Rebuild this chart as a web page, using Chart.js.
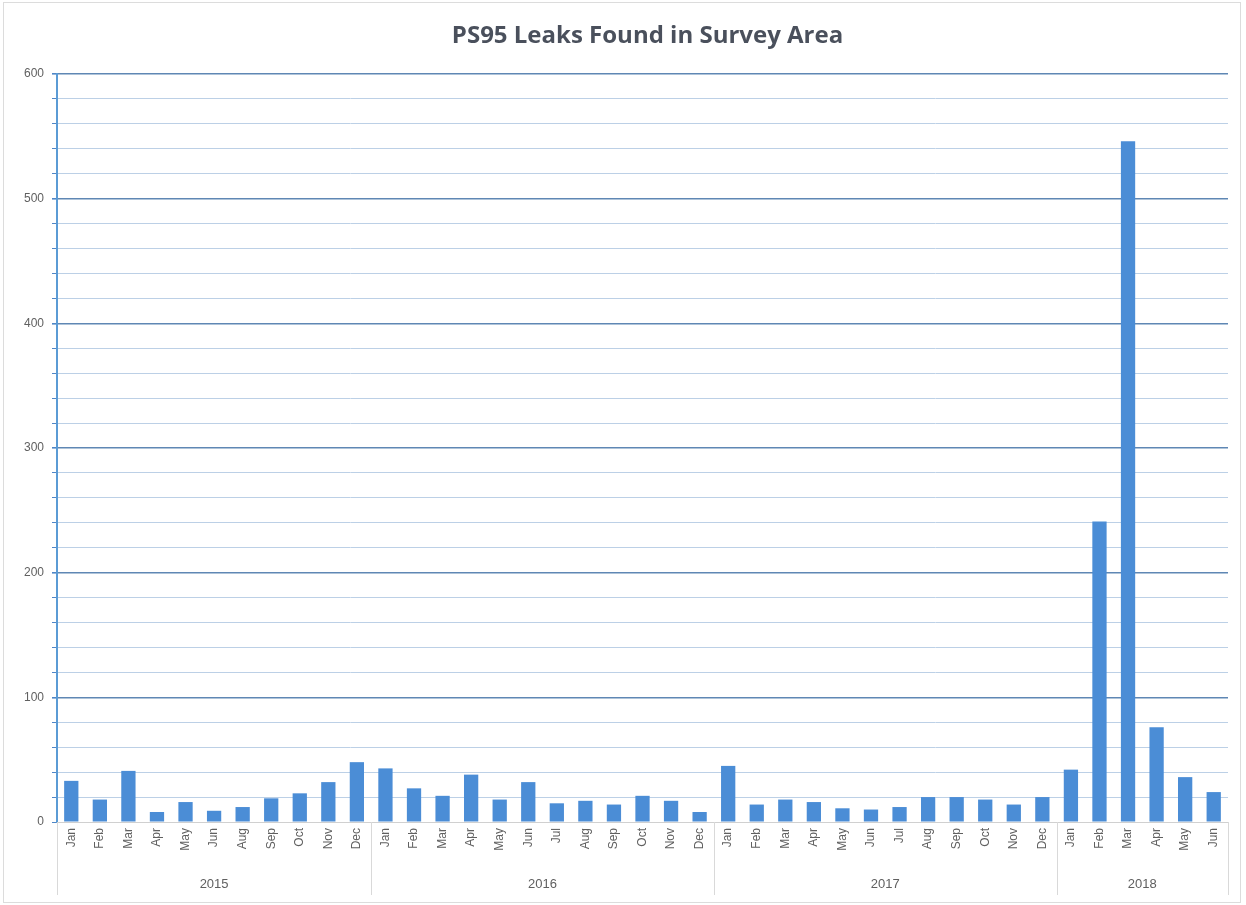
<!DOCTYPE html>
<html>
<head>
<meta charset="utf-8">
<title>PS95 Leaks Found in Survey Area</title>
<script src="https://cdn.jsdelivr.net/npm/chart.js@4.4.1/dist/chart.umd.min.js"></script>
<style>
    html, body { margin: 0; padding: 0; background: #ffffff; }
    .frame {
        position: absolute;
        left: 3px; top: 2px;
        width: 1236px; height: 899px;
        border: 1px solid #dcdcdc;
    }
    .chart-box {
        position: absolute;
        left: 0; top: 0;
        width: 1246px; height: 905px;
    }
</style>
</head>
<body>
<div class="frame"></div>
<div class="chart-box"><canvas id="leaks-chart"></canvas></div>
<script>
// Category groups (2015 has no July)
const years = ['2015', '2016', '2017', '2018'];
const months2015 = ['Jan', 'Feb', 'Mar', 'Apr', 'May', 'Jun', 'Aug', 'Sep', 'Oct', 'Nov', 'Dec'];
const months2016 = ['Jan', 'Feb', 'Mar', 'Apr', 'May', 'Jun', 'Jul', 'Aug', 'Sep', 'Oct', 'Nov', 'Dec'];
const months2017 = ['Jan', 'Feb', 'Mar', 'Apr', 'May', 'Jun', 'Jul', 'Aug', 'Sep', 'Oct', 'Nov', 'Dec'];
const months2018 = ['Jan', 'Feb', 'Mar', 'Apr', 'May', 'Jun'];

// Leaks found per month
const leaks2015 = [33, 18, 41, 8, 16, 9, 12, 19, 23, 32, 48];
const leaks2016 = [43, 27, 21, 38, 18, 32, 15, 17, 14, 21, 17, 8];
const leaks2017 = [45, 14, 18, 16, 11, 10, 12, 20, 20, 18, 14, 20];
const leaks2018 = [42, 241, 546, 76, 36, 24];

// Y axis
const yMin = 0;
const yMax = 600;
const yStep = 20;
const yLabelStep = 100;

const chartTitle = 'PS95 Leaks Found in Survey Area';

const monthGroups = [months2015, months2016, months2017, months2018];
const labels = monthGroups.flat();
const values = [leaks2015, leaks2016, leaks2017, leaks2018].flat();

const FONT = '"Liberation Sans", Arial, sans-serif';
const TEXT_COLOR = '#606060';
const MAJOR_GRID = '#5f87b4';
const MINOR_GRID = '#bcd0e6';
const SEP_COLOR = '#d9d9d9';

/**
 * Title centred over the plot area (Excel style)
 */
const plotTitlePlugin = {
    id: 'plotTitle',
    afterDraw(chart) {
        const area = chart.chartArea;
        const ctx = chart.ctx;
        ctx.save();
        ctx.fillStyle = '#4a505c';
        ctx.font = 'bold 24px "Open Sans", "Liberation Sans", sans-serif';
        ctx.textAlign = 'center';
        ctx.textBaseline = 'middle';
        ctx.fillText(chartTitle, (area.left + area.right) / 2 + 5, 36);
        ctx.restore();
    }
};

/**
 * Draws the year row and group separators under the month labels
 */
const yearGroupsPlugin = {
    id: 'yearGroups',
    afterDraw(chart) {
        const x = chart.scales.x;
        const area = chart.chartArea;
        const ctx = chart.ctx;
        const top = area.bottom;
        const bottom = x.bottom;

        ctx.save();
        ctx.strokeStyle = SEP_COLOR;
        ctx.lineWidth = 1;
        ctx.fillStyle = TEXT_COLOR;
        ctx.font = '13px ' + FONT;
        ctx.textAlign = 'center';
        ctx.textBaseline = 'middle';

        let start = 0;
        monthGroups.forEach((group, i) => {
            const end = start + group.length - 1;
            const left = start === 0 ? area.left : (x.getPixelForValue(start - 1) + x.getPixelForValue(start)) / 2;
            const right = end === labels.length - 1 ? area.right : (x.getPixelForValue(end) + x.getPixelForValue(end + 1)) / 2;

            ctx.beginPath();
            ctx.moveTo(Math.round(left) + 0.5, top);
            ctx.lineTo(Math.round(left) + 0.5, bottom);
            ctx.stroke();
            if (i === monthGroups.length - 1) {
                ctx.beginPath();
                ctx.moveTo(Math.round(right) + 0.5, top);
                ctx.lineTo(Math.round(right) + 0.5, bottom);
                ctx.stroke();
            }

            ctx.fillText(years[i], (left + right) / 2, bottom - 11);
            start = end + 1;
        });
        ctx.restore();
    }
};

const ctx = document.getElementById('leaks-chart').getContext('2d');

new Chart(ctx, {
    type: 'bar',
    data: {
        labels: labels,
        datasets: [{
            label: 'Leaks',
            data: values,
            backgroundColor: '#4b8dd6',
            borderWidth: 0,
            categoryPercentage: 1,
            barPercentage: 0.5
        }]
    },
    options: {
        responsive: true,
        maintainAspectRatio: false,
        animation: false,
        layout: {
            padding: { left: 0, right: 18, top: 74, bottom: 10 }
        },
        plugins: {
            legend: { display: false },
            tooltip: { enabled: false },
            title: { display: false }
        },
        scales: {
            x: {
                type: 'category',
                ticks: {
                    color: TEXT_COLOR,
                    font: { family: FONT, size: 12 },
                    maxRotation: 90,
                    minRotation: 90,
                    autoSkip: false,
                    padding: 6
                },
                grid: {
                    display: true,
                    drawOnChartArea: false,
                    drawTicks: false
                },
                border: { color: '#d0d0d0', width: 1 },
                afterFit(scale) {
                    scale.height = 73;
                }
            },
            y: {
                min: yMin,
                max: yMax,
                ticks: {
                    stepSize: yStep,
                    autoSkip: false,
                    color: TEXT_COLOR,
                    font: { family: FONT, size: 12 },
                    padding: 8,
                    callback: v => (v % yLabelStep === 0 ? v : '')
                },
                grid: {
                    color: c => (c.tick.value > 0 && c.tick.value % yLabelStep === 0 ? MAJOR_GRID : MINOR_GRID),
                    lineWidth: c => (c.tick.value > 0 && c.tick.value % yLabelStep === 0 ? 1.6 : 1),
                    tickLength: 5,
                    tickColor: '#4f86c6'
                },
                border: { color: '#5b9bd5', width: 2 },
                afterFit(scale) {
                    scale.width = 57;
                }
            }
        }
    },
    plugins: [plotTitlePlugin, yearGroupsPlugin]
});
</script>
</body>
</html>
